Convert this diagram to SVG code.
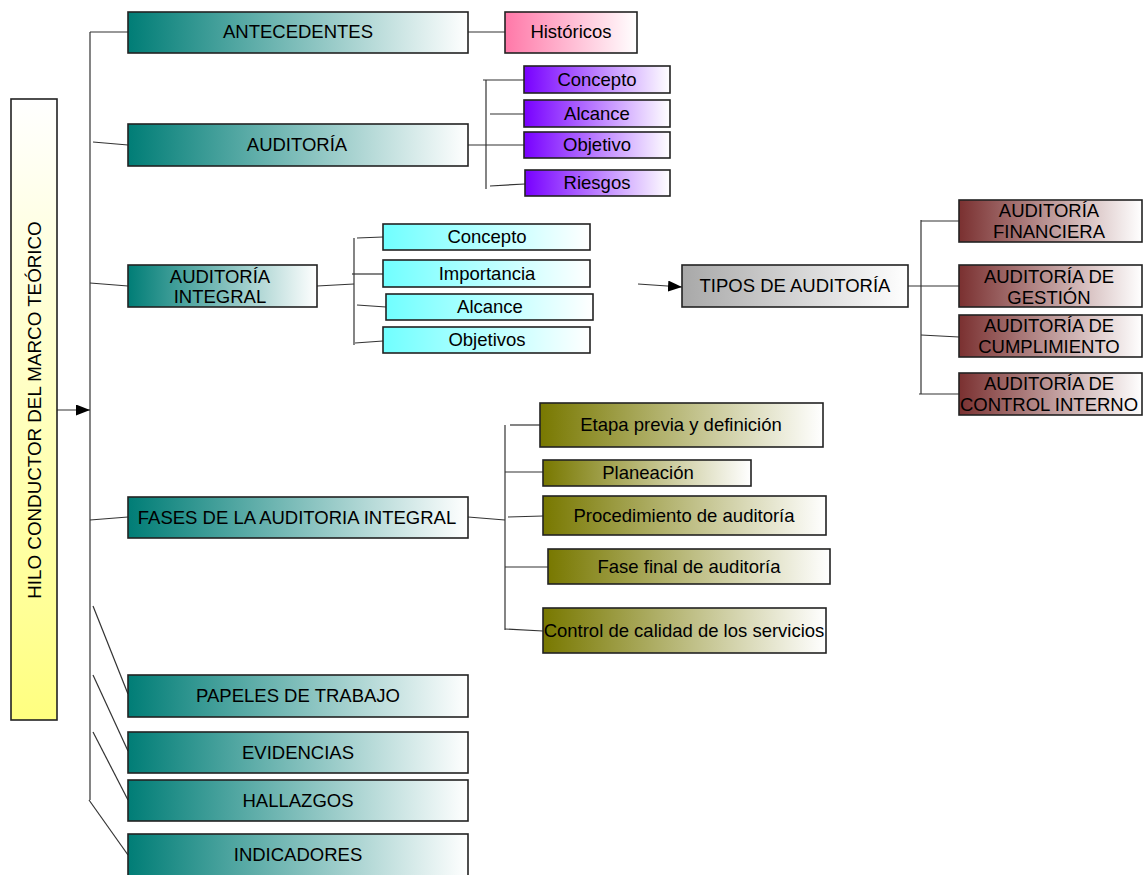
<svg xmlns="http://www.w3.org/2000/svg" width="1143" height="875" viewBox="0 0 1143 875">
  <defs>
    <linearGradient id="gTeal" x1="0" y1="0" x2="1" y2="0">
      <stop offset="0" stop-color="#007d76"/>
      <stop offset="1" stop-color="#ffffff"/>
    </linearGradient>
    <linearGradient id="gPink" x1="0" y1="0" x2="1" y2="0">
      <stop offset="0" stop-color="#ff78a8"/>
      <stop offset="1" stop-color="#ffffff"/>
    </linearGradient>
    <linearGradient id="gPurple" x1="0" y1="0" x2="1" y2="0">
      <stop offset="0" stop-color="#7800ff"/>
      <stop offset="1" stop-color="#ffffff"/>
    </linearGradient>
    <linearGradient id="gCyan" x1="0" y1="0" x2="1" y2="0">
      <stop offset="0" stop-color="#70ffff"/>
      <stop offset="1" stop-color="#ffffff"/>
    </linearGradient>
    <linearGradient id="gGray" x1="0" y1="0" x2="1" y2="0">
      <stop offset="0" stop-color="#a8a8a8"/>
      <stop offset="1" stop-color="#ffffff"/>
    </linearGradient>
    <linearGradient id="gMaroon" x1="0" y1="0" x2="1" y2="0">
      <stop offset="0" stop-color="#7a3030"/>
      <stop offset="1" stop-color="#ffffff"/>
    </linearGradient>
    <linearGradient id="gOlive" x1="0" y1="0" x2="1" y2="0">
      <stop offset="0" stop-color="#787800"/>
      <stop offset="1" stop-color="#ffffff"/>
    </linearGradient>
    <linearGradient id="gYellow" x1="0" y1="0" x2="0" y2="1">
      <stop offset="0" stop-color="#ffffff"/>
      <stop offset="1" stop-color="#ffff80"/>
    </linearGradient>
    <marker id="arrow" viewBox="0 0 14 11" refX="14" refY="5.5" markerWidth="14" markerHeight="11" markerUnits="userSpaceOnUse" orient="auto">
      <path d="M0,0 L14,5.5 L0,11 Z" fill="#000"/>
    </marker>
  </defs>
  <style>
    .box { stroke: #222; stroke-width: 1.6; }
    .t { font-family: "Liberation Sans", Arial, sans-serif; font-size: 18.5px; fill: #000; text-anchor: middle; }
    .conn line { stroke: #333; stroke-width: 1.2; fill: none; }
  </style>

  <rect width="1143" height="875" fill="#ffffff"/>

  <!-- connectors -->
  <g class="conn" id="connectors">
    <!-- main trunk -->
    <line x1="90" y1="32" x2="90" y2="800"/>
    <line x1="57" y1="410" x2="90" y2="410" marker-end="url(#arrow)"/>
    <line x1="90" y1="32" x2="128" y2="32"/>
    <line x1="93" y1="142" x2="128" y2="145"/>
    <line x1="90" y1="283" x2="128" y2="286"/>
    <line x1="90" y1="520" x2="128" y2="517"/>
    <line x1="93" y1="606" x2="128" y2="694"/>
    <line x1="93" y1="675" x2="128" y2="751"/>
    <line x1="93" y1="732" x2="128" y2="800"/>
    <line x1="89" y1="800" x2="128" y2="855"/>
    <!-- antecedentes -->
    <line x1="468" y1="32" x2="505" y2="32"/>
    <!-- auditoria -->
    <line x1="468" y1="145" x2="524" y2="145"/>
    <line x1="486" y1="80" x2="486" y2="189"/>
    <line x1="483" y1="80" x2="524" y2="80"/>
    <line x1="490" y1="114" x2="524" y2="114"/>
    <line x1="490" y1="186" x2="525" y2="184"/>
    <!-- auditoria integral -->
    <line x1="317" y1="286" x2="354" y2="284"/>
    <line x1="354" y1="238" x2="354" y2="345"/>
    <line x1="357" y1="238" x2="383" y2="237"/>
    <line x1="352" y1="274" x2="383" y2="274"/>
    <line x1="357" y1="305" x2="386" y2="307"/>
    <line x1="355" y1="343" x2="383" y2="341"/>
    <line x1="638" y1="284" x2="682" y2="287" marker-end="url(#arrow)"/>
    <!-- tipos de auditoria -->
    <line x1="908" y1="286" x2="959" y2="286"/>
    <line x1="921" y1="220" x2="921" y2="394"/>
    <line x1="921" y1="221" x2="959" y2="221"/>
    <line x1="921" y1="335" x2="959" y2="337"/>
    <line x1="919" y1="394" x2="959" y2="394"/>
    <!-- fases -->
    <line x1="468" y1="517" x2="505" y2="520"/>
    <line x1="505" y1="425" x2="505" y2="630"/>
    <line x1="510" y1="425" x2="540" y2="425"/>
    <line x1="505" y1="472" x2="543" y2="472"/>
    <line x1="508" y1="517" x2="543" y2="516"/>
    <line x1="505" y1="567" x2="548" y2="567"/>
    <line x1="505" y1="629" x2="543" y2="631"/>
  </g>

  <!-- root -->
  <g id="n-hilo">
    <rect class="box" x="11" y="99" width="46" height="621" fill="url(#gYellow)"/>
    <text class="t" style="font-size:18.8px" transform="translate(41,410) rotate(-90)">HILO CONDUCTOR DEL MARCO TEÓRICO</text>
  </g>

  <!-- first level -->
  <g id="n-antecedentes">
    <rect class="box" x="128" y="12" width="340" height="41" fill="url(#gTeal)"/>
    <text class="t" x="298" y="38">ANTECEDENTES</text>
  </g>
  <g id="n-auditoria">
    <rect class="box" x="128" y="124" width="340" height="42" fill="url(#gTeal)"/>
    <text class="t" x="297" y="151">AUDITORÍA</text>
  </g>
  <g id="n-auditoria-integral">
    <rect class="box" x="128" y="265" width="189" height="42" fill="url(#gTeal)"/>
    <text class="t" x="220" y="283">AUDITORÍA</text>
    <text class="t" x="220" y="303">INTEGRAL</text>
  </g>
  <g id="n-fases">
    <rect class="box" x="128" y="497" width="340" height="41" fill="url(#gTeal)"/>
    <text class="t" x="297" y="524">FASES DE LA AUDITORIA INTEGRAL</text>
  </g>
  <g id="n-papeles">
    <rect class="box" x="128" y="675" width="340" height="42" fill="url(#gTeal)"/>
    <text class="t" x="298" y="702">PAPELES DE TRABAJO</text>
  </g>
  <g id="n-evidencias">
    <rect class="box" x="128" y="732" width="340" height="41" fill="url(#gTeal)"/>
    <text class="t" x="298" y="759">EVIDENCIAS</text>
  </g>
  <g id="n-hallazgos">
    <rect class="box" x="128" y="780" width="340" height="41" fill="url(#gTeal)"/>
    <text class="t" x="298" y="807">HALLAZGOS</text>
  </g>
  <g id="n-indicadores">
    <rect class="box" x="128" y="834" width="340" height="45" fill="url(#gTeal)"/>
    <text class="t" x="298" y="861">INDICADORES</text>
  </g>

  <!-- antecedentes child -->
  <g id="n-historicos">
    <rect class="box" x="505" y="12" width="132" height="41" fill="url(#gPink)"/>
    <text class="t" x="571" y="38">Históricos</text>
  </g>

  <!-- auditoria children -->
  <g id="n-aud-concepto">
    <rect class="box" x="524" y="66" width="146" height="27" fill="url(#gPurple)"/>
    <text class="t" x="597" y="86">Concepto</text>
  </g>
  <g id="n-aud-alcance">
    <rect class="box" x="524" y="100" width="146" height="27" fill="url(#gPurple)"/>
    <text class="t" x="597" y="120">Alcance</text>
  </g>
  <g id="n-aud-objetivo">
    <rect class="box" x="524" y="132" width="146" height="26" fill="url(#gPurple)"/>
    <text class="t" x="597" y="151">Objetivo</text>
  </g>
  <g id="n-aud-riesgos">
    <rect class="box" x="525" y="170" width="145" height="26" fill="url(#gPurple)"/>
    <text class="t" x="597" y="189">Riesgos</text>
  </g>

  <!-- auditoria integral children -->
  <g id="n-int-concepto">
    <rect class="box" x="383" y="224" width="207" height="26" fill="url(#gCyan)"/>
    <text class="t" x="487" y="243">Concepto</text>
  </g>
  <g id="n-int-importancia">
    <rect class="box" x="383" y="260" width="207" height="27" fill="url(#gCyan)"/>
    <text class="t" x="487" y="280">Importancia</text>
  </g>
  <g id="n-int-alcance">
    <rect class="box" x="386" y="294" width="207" height="26" fill="url(#gCyan)"/>
    <text class="t" x="490" y="313">Alcance</text>
  </g>
  <g id="n-int-objetivos">
    <rect class="box" x="383" y="327" width="207" height="26" fill="url(#gCyan)"/>
    <text class="t" x="487" y="346">Objetivos</text>
  </g>

  <!-- tipos de auditoria -->
  <g id="n-tipos">
    <rect class="box" x="682" y="265" width="226" height="42" fill="url(#gGray)"/>
    <text class="t" x="795" y="292">TIPOS DE AUDITORÍA</text>
  </g>
  <g id="n-financiera">
    <rect class="box" x="959" y="200" width="183" height="42" fill="url(#gMaroon)"/>
    <text class="t" x="1049" y="217">AUDITORÍA</text>
    <text class="t" x="1049" y="238">FINANCIERA</text>
  </g>
  <g id="n-gestion">
    <rect class="box" x="959" y="265" width="183" height="42" fill="url(#gMaroon)"/>
    <text class="t" x="1049" y="283">AUDITORÍA DE</text>
    <text class="t" x="1049" y="304">GESTIÓN</text>
  </g>
  <g id="n-cumplimiento">
    <rect class="box" x="959" y="315" width="183" height="42" fill="url(#gMaroon)"/>
    <text class="t" x="1049" y="332">AUDITORÍA DE</text>
    <text class="t" x="1049" y="353">CUMPLIMIENTO</text>
  </g>
  <g id="n-control-interno">
    <rect class="box" x="959" y="373" width="183" height="42" fill="url(#gMaroon)"/>
    <text class="t" x="1049" y="390">AUDITORÍA DE</text>
    <text class="t" x="1049" y="411">CONTROL INTERNO</text>
  </g>

  <!-- fases children -->
  <g id="n-etapa-previa">
    <rect class="box" x="540" y="403" width="283" height="44" fill="url(#gOlive)"/>
    <text class="t" x="681" y="431">Etapa previa y definición</text>
  </g>
  <g id="n-planeacion">
    <rect class="box" x="543" y="460" width="208" height="26" fill="url(#gOlive)"/>
    <text class="t" x="648" y="479">Planeación</text>
  </g>
  <g id="n-procedimiento">
    <rect class="box" x="543" y="496" width="283" height="39" fill="url(#gOlive)"/>
    <text class="t" x="684" y="522">Procedimiento de auditoría</text>
  </g>
  <g id="n-fase-final">
    <rect class="box" x="548" y="549" width="282" height="35" fill="url(#gOlive)"/>
    <text class="t" x="689" y="573">Fase final de auditoría</text>
  </g>
  <g id="n-control-calidad">
    <rect class="box" x="543" y="608" width="283" height="45" fill="url(#gOlive)"/>
    <text class="t" x="684" y="637">Control de calidad de los servicios</text>
  </g>
</svg>
